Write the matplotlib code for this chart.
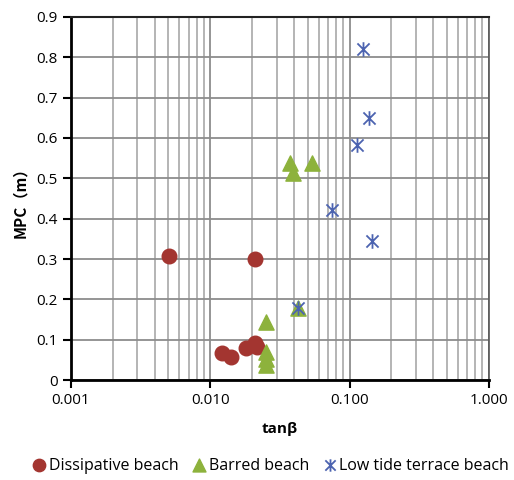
import numpy as np
import matplotlib.pyplot as plt
from matplotlib.path import Path
from matplotlib.ticker import FixedLocator, LogLocator, NullFormatter

plt.rcParams['font.family'] = ['Open Sans', 'DejaVu Sans']

# data
diss_x = [0.0051, 0.0211, 0.0122, 0.0142, 0.0182, 0.0211, 0.0218]
diss_y = [0.307, 0.300, 0.067, 0.057, 0.080, 0.092, 0.082]
barr_x = [0.0253, 0.0253, 0.0253, 0.0253, 0.0372, 0.0394, 0.054, 0.043]
barr_y = [0.145, 0.070, 0.052, 0.037, 0.538, 0.514, 0.538, 0.179]
low_x = [0.124, 0.139, 0.114, 0.0743, 0.146, 0.043]
low_y = [0.821, 0.650, 0.583, 0.422, 0.345, 0.179]

# star-like marker: X with vertical bar
star = Path([(-1, -1), (1, 1), (-1, 1), (1, -1), (0, -1.2), (0, 1.2)],
            [Path.MOVETO, Path.LINETO, Path.MOVETO, Path.LINETO, Path.MOVETO, Path.LINETO])

fig = plt.figure(figsize=(5.14, 4.8), dpi=100)
ax = fig.add_axes([0.138, 0.208, 0.813, 0.757])

ax.scatter(diss_x, diss_y, s=110, marker='o', color='#A33530', label='Dissipative beach', zorder=3)
ax.scatter(barr_x, barr_y, s=120, marker='^', color='#8DB23C', label='Barred beach', zorder=3)
ax.scatter(low_x, low_y, s=110, marker=star, color='#4C63B0', linewidths=1.3,
           label='Low tide terrace beach', zorder=4)

ax.set_xscale('log')
ax.set_xlim(0.001, 1.0)
ax.set_ylim(0, 0.9)
ax.xaxis.set_major_locator(FixedLocator([0.001, 0.01, 0.1, 1.0]))
ax.xaxis.set_minor_locator(LogLocator(base=10, subs=np.arange(2, 10)))
ax.xaxis.set_minor_formatter(NullFormatter())
ax.set_xticks([0.001, 0.01, 0.1, 1.0])
ax.set_xticklabels(['0.001', '0.010', '0.100', '1.000'])
ax.set_yticks(np.arange(0, 0.91, 0.1))
ax.set_yticklabels(['0', '0.1', '0.2', '0.3', '0.4', '0.5', '0.6', '0.7', '0.8', '0.9'])

ax.grid(which='major', color='#8c8c8c', linewidth=1.3)
ax.grid(which='minor', axis='x', color='#a8a8a8', linewidth=1.2)
ax.set_axisbelow(True)

ax.tick_params(axis='both', which='major', labelsize=11, length=6, width=1.5, direction='out')
ax.tick_params(axis='x', which='minor', length=0)
for s in ['left', 'bottom']:
    ax.spines[s].set_linewidth(2)
    ax.spines[s].set_color('black')
ax.spines['top'].set_linewidth(1.5)
ax.spines['top'].set_color('#222222')
ax.spines['right'].set_linewidth(1.2)
ax.spines['right'].set_color('#555555')

ax.set_xlabel('tanβ', fontsize=11, fontweight='bold', labelpad=10)
ax.set_ylabel('MPC（m）', fontsize=11, fontweight='bold', labelpad=6,
              family=['Noto Sans CJK SC', 'DejaVu Sans'])

fig.legend(loc='center', bbox_to_anchor=(0.527, 0.03), ncol=3, frameon=False,
           fontsize=11.5, markerscale=0.85, handlelength=0.8, handletextpad=0.2,
           columnspacing=0.9, borderaxespad=0, borderpad=0)

fig.savefig('out.png', dpi=100)
